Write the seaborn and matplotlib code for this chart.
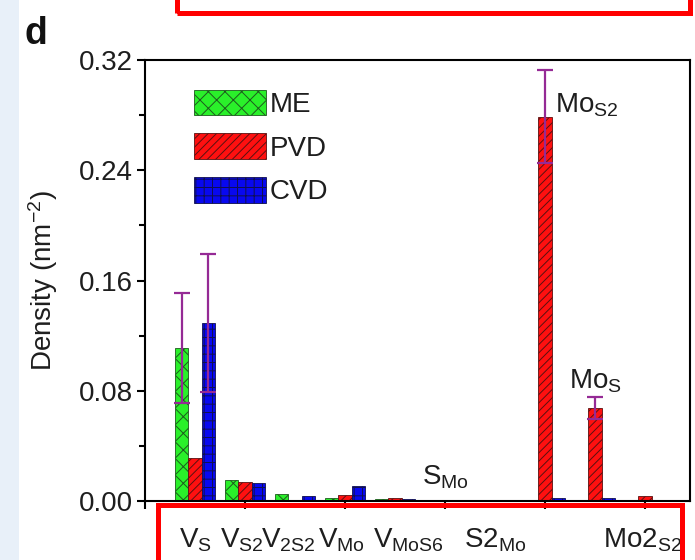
import numpy as np
import pandas as pd
import matplotlib
matplotlib.use("Agg")
import matplotlib.pyplot as plt
from matplotlib.patches import Rectangle
from matplotlib.container import BarContainer
import seaborn as sns

# ---------------- data ----------------
defects = ["V_S", "V_S2", "V_2S2", "V_Mo", "V_MoS6", "S_Mo", "S2_Mo", "Mo_S2", "Mo_S", "Mo2_S2"]
methods = ["ME", "PVD", "CVD"]
me_vals  = [0.111, 0.015, 0.005, 0.002, 0.0015, 0.0010, 0.0008, 0.0008, 0.0008, 0.0008]
pvd_vals = [0.031, 0.014, 0.0005, 0.004, 0.0020, 0.0008, 0.0008, 0.279, 0.0675, 0.0035]
cvd_vals = [0.129, 0.013, 0.0036, 0.011, 0.0012, 0.0008, 0.0008, 0.0025, 0.0025, 0.0010]
me_err   = [0.040, 0, 0, 0, 0, 0, 0, 0, 0, 0]
pvd_err  = [0, 0, 0, 0, 0, 0, 0, 0.034, 0.0078, 0]
cvd_err  = [0.050, 0, 0, 0, 0, 0, 0, 0, 0, 0]
bottom_labels = ["V$_{S}$", "V$_{S2}$", "V$_{2S2}$", "V$_{Mo}$", "V$_{MoS6}$", "S2$_{Mo}$", "Mo2$_{S2}$"]
bottom_label_idx = [0, 1, 2, 3, 4, 6, 9]
yticks = [0.00, 0.08, 0.16, 0.24, 0.32]

df = pd.DataFrame({
    "defect": defects * 3,
    "method": sum([[m] * len(defects) for m in methods], []),
    "density": me_vals + pvd_vals + cvd_vals,
})
errs = [me_err, pvd_err, cvd_err]

# ---------------- style ----------------
sns.set_style("ticks")
plt.rcParams["font.family"] = ["Liberation Sans", "DejaVu Sans"]
plt.rcParams["mathtext.default"] = "regular"
plt.rcParams["hatch.linewidth"] = 0.7

colors = ["#2af02a", "#ff1010", "#0808f0"]
hatches = ["xx", "////", "++"]
hatch_cols = ["#1d5a1d", "#5a1010", "#101050"]
txt = "#1e1e1e"
fs = 20

W, H = 695, 560
fig = plt.figure(figsize=(W / 100, H / 100), dpi=100)
fig.patch.set_facecolor("white")
ax = fig.add_axes([145 / W, 1 - 501 / H, (690 - 145) / W, (501 - 60) / H])

sns.barplot(data=df, x="defect", y="density", hue="method", order=defects,
            hue_order=methods, palette=colors, errorbar=None, width=0.8,
            saturation=1, legend=False, ax=ax)

bars = [c for c in ax.containers if isinstance(c, BarContainer)]
for k, cont in enumerate(bars):
    for p in cont.patches:
        p.set_hatch(hatches[k])
        p.set_edgecolor(hatch_cols[k])
        p.set_linewidth(0.6)
    xs = np.array([p.get_x() + p.get_width() / 2 for p in cont.patches])
    hs = np.array([p.get_height() for p in cont.patches])
    e = np.array(errs[k])
    m = e > 0
    if m.any():
        ax.errorbar(xs[m], hs[m], yerr=e[m], fmt="none", ecolor="#952a95",
                    elinewidth=1.6, capsize=5.5, capthick=1.6, zorder=5)

ax.set_xlim(-1, 9.9)
ax.set_ylim(0, 0.32)
ax.set_yticks(yticks)
ax.set_yticklabels([f"{v:.2f}" for v in yticks])
ax.set_yticks(np.arange(0.04, 0.32, 0.08), minor=True)
ax.set_xticks([-1, 1, 3, 5, 7, 9])
ax.set_xticklabels([])
ax.tick_params(axis="both", which="major", direction="out", length=6, width=1.5,
               pad=2.5, labelsize=fs, color="black", labelcolor=txt)
ax.tick_params(axis="y", which="minor", direction="out", length=4, width=1.5, color="black")
ax.set_xlabel("")
ax.set_ylabel("Density (nm$^{-2}$)", fontsize=fs, labelpad=14, color=txt)
for s in ax.spines.values():
    s.set_visible(True)
    s.set_linewidth(1.5)
    s.set_color("black")

# bottom category labels (shifted slightly where the original text runs together)
label_shift = [0.0, -0.07, -0.13, -0.07, 0.26, 0.0, -0.05]
for lab, i, dx in zip(bottom_labels, bottom_label_idx, label_shift):
    ax.annotate(lab, xy=(i + dx, 0), xycoords=("data", "axes fraction"),
                xytext=(0, -26), textcoords="offset pixels",
                ha="center", va="top", fontsize=fs, color=txt)

# annotations of specific bars
ax.text(5, 0.007, "S$_{Mo}$", ha="center", va="bottom", fontsize=fs, color=txt)
ax.text(7.2, 0.297, "Mo$_{S2}$", ha="left", va="top", fontsize=fs, color=txt)
ax.text(8, 0.077, "Mo$_{S}$", ha="center", va="bottom", fontsize=fs, color=txt)

leg = ax.legend(bars, methods, loc="upper left", bbox_to_anchor=(0.07, 0.958),
                frameon=False, fontsize=fs, handlelength=2.6, handleheight=1.05,
                labelspacing=0.55, handletextpad=0.1, borderaxespad=0)
for t in leg.get_texts():
    t.set_color(txt)

# figure decorations: panel letter, side strip, highlight boxes
fig.text(24 / W, 1 - 44 / H, "d", fontsize=27, fontweight="bold", color="#111111",
         ha="left", va="baseline")
fig.patches.append(Rectangle((0, 0), 19 / W, 1, transform=fig.transFigure,
                             facecolor="#e8f0f9", edgecolor="none", zorder=0))
fig.patches.append(Rectangle((158 / W, -0.05), (682 - 158) / W, 0.05 + (560 - 504.5) / H,
                             transform=fig.transFigure, facecolor="none",
                             edgecolor="#ff0000", linewidth=3.6, zorder=10))
fig.patches.append(Rectangle((177 / W, 1 - 12.5 / H), (690 - 177) / W, 0.1,
                             transform=fig.transFigure, facecolor="none",
                             edgecolor="#ff0000", linewidth=3.6, zorder=10))

fig.savefig("out.png", dpi=100)
